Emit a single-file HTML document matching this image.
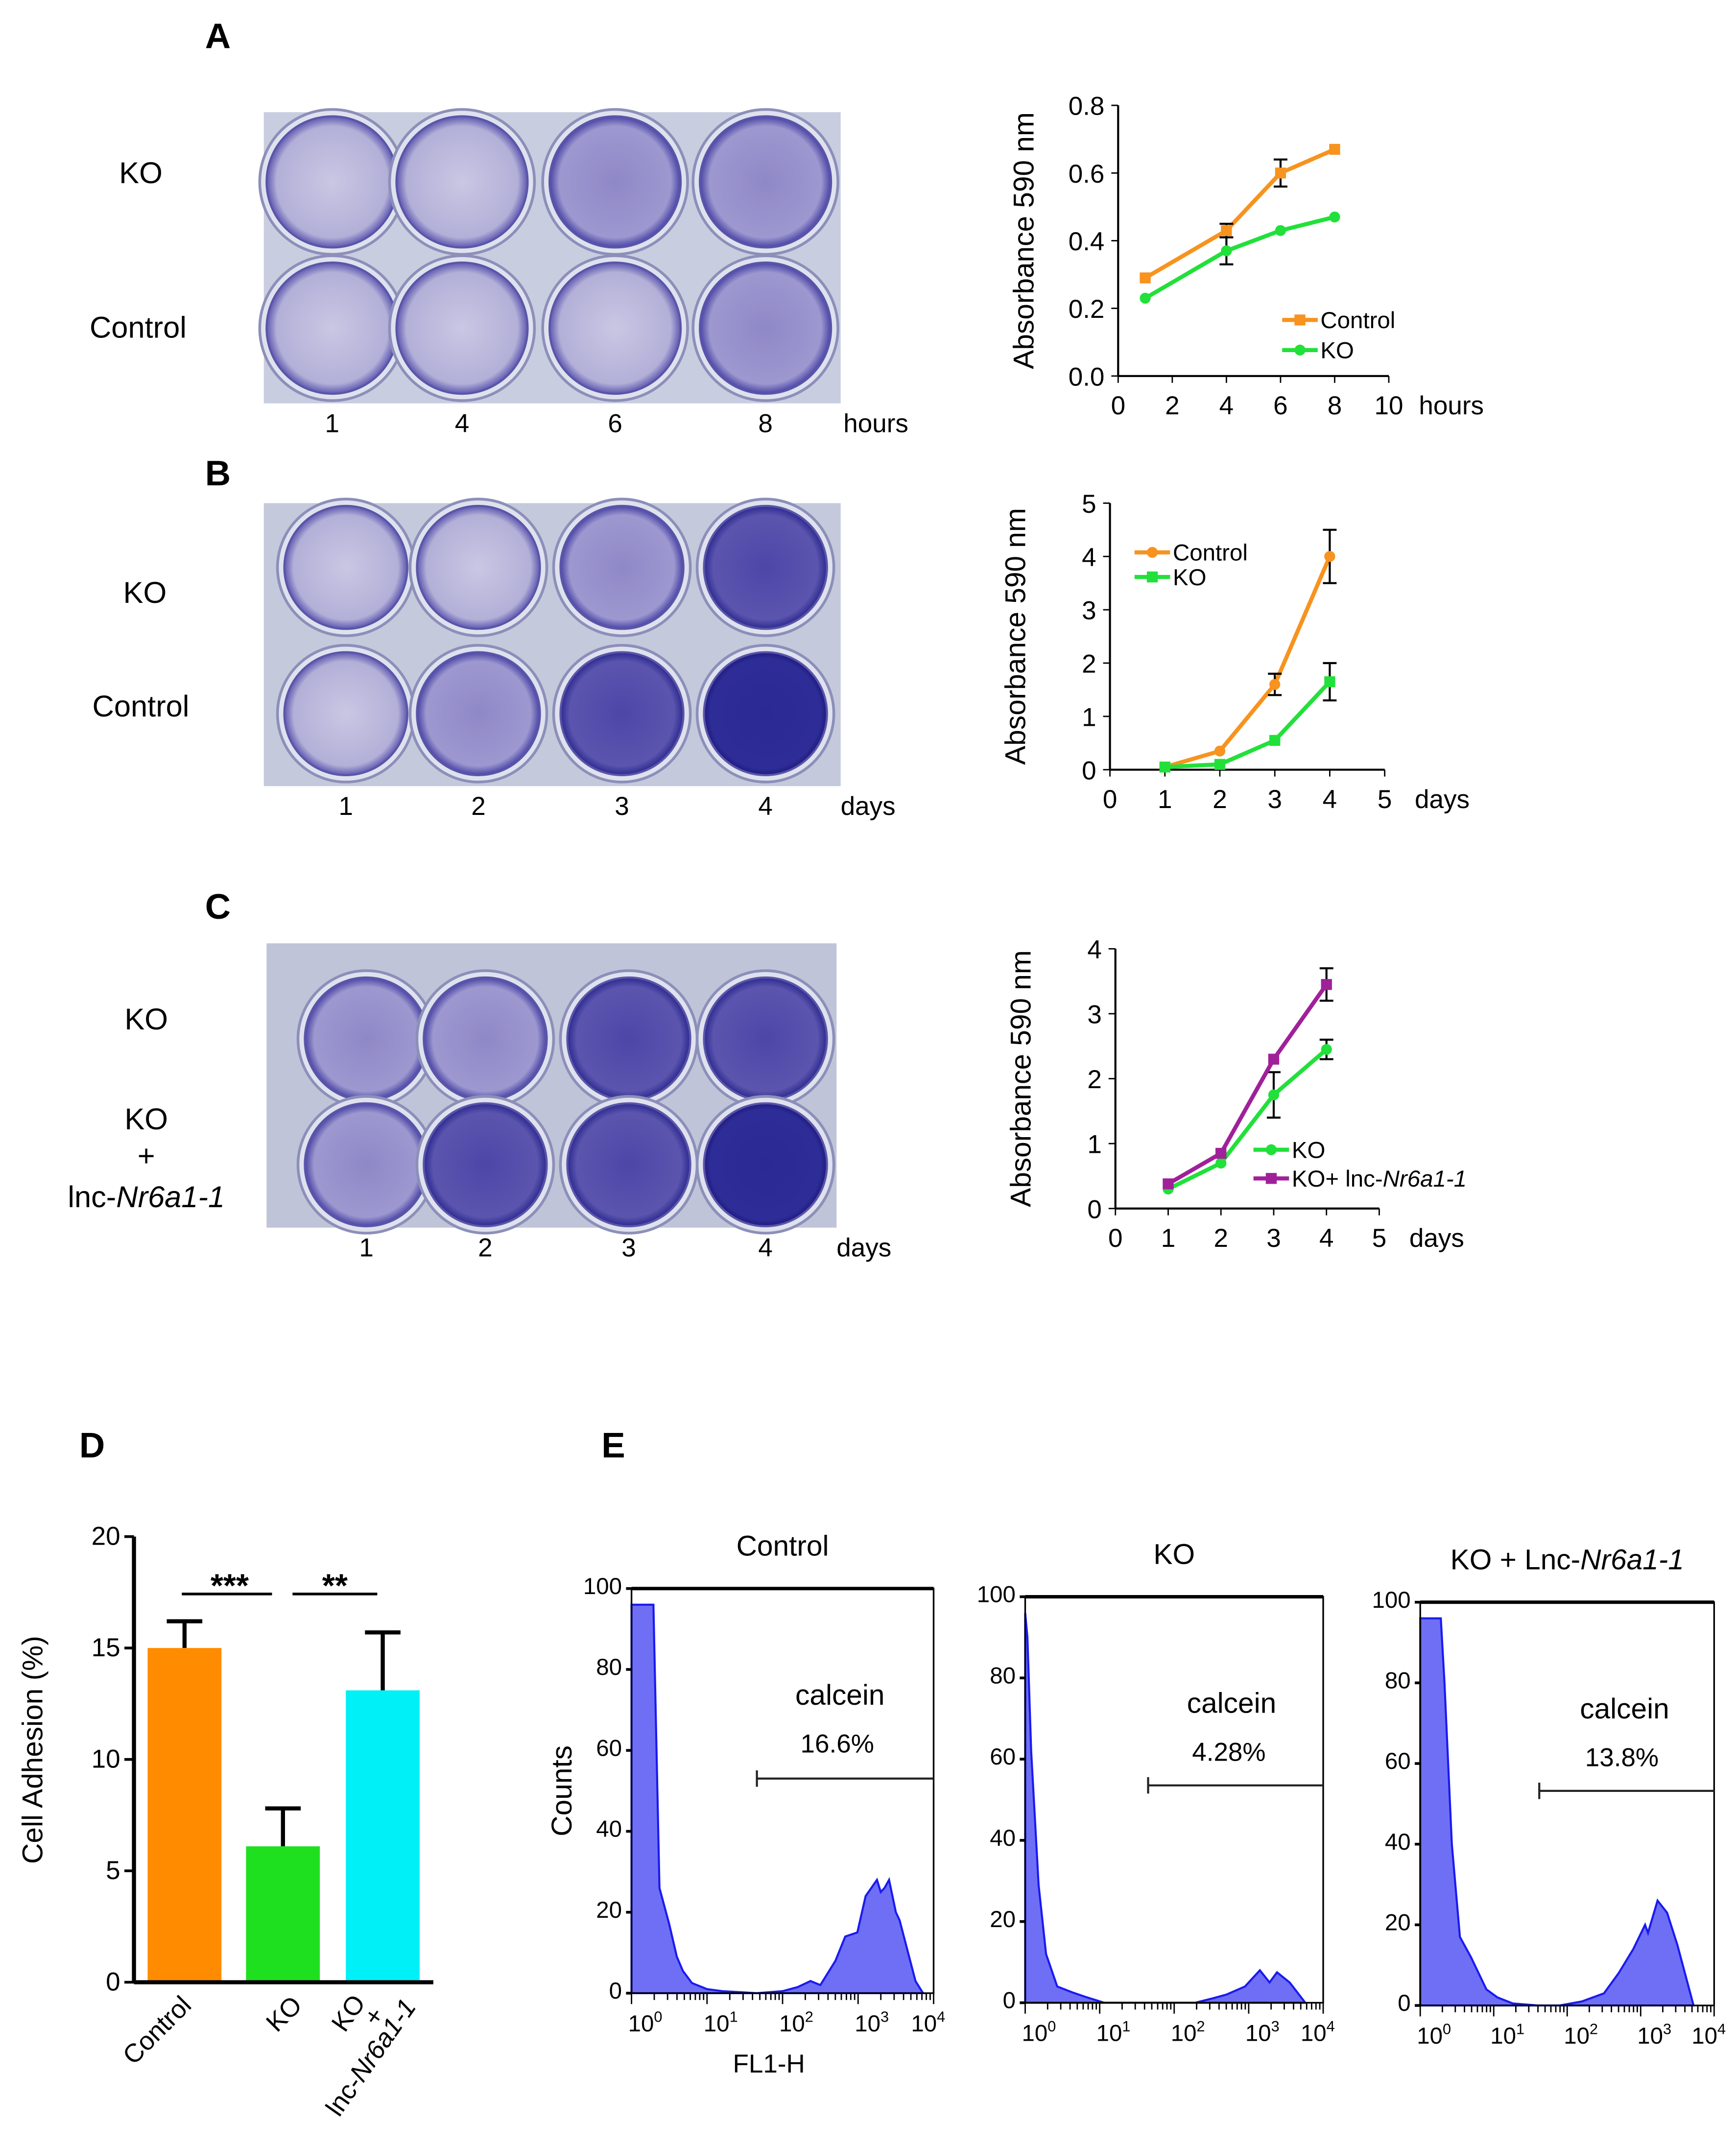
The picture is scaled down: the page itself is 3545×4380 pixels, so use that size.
<!DOCTYPE html>
<html><head><meta charset="utf-8"><style>
html,body{margin:0;padding:0;background:#fff}
svg{display:block;font-family:"Liberation Sans",Arial,sans-serif}
</style></head><body>
<svg id="fig" width="3545" height="4380" viewBox="0 0 1270 1569" xmlns="http://www.w3.org/2000/svg">
<defs>
<radialGradient id="wl" cx="50%" cy="50%" r="50%"><stop offset="0" stop-color="#c9c7e3"/><stop offset="0.85" stop-color="#b3b0d8"/><stop offset="1" stop-color="#5e58b0"/></radialGradient>
<radialGradient id="wm" cx="50%" cy="50%" r="50%"><stop offset="0" stop-color="#8f88c8"/><stop offset="0.85" stop-color="#9d98cf"/><stop offset="1" stop-color="#4a44a6"/></radialGradient>
<radialGradient id="wd" cx="50%" cy="50%" r="50%"><stop offset="0" stop-color="#4e46a8"/><stop offset="0.85" stop-color="#5b55ae"/><stop offset="1" stop-color="#2d2a90"/></radialGradient>
<radialGradient id="wv" cx="50%" cy="50%" r="50%"><stop offset="0" stop-color="#2b2a94"/><stop offset="0.9" stop-color="#2e2c96"/><stop offset="1" stop-color="#1e1c80"/></radialGradient>
</defs>
<g id="root"></g>
</svg>
<script>
const NS="http://www.w3.org/2000/svg";
const root=document.getElementById('root');
function el(tag,attrs,parent,text){const e=document.createElementNS(NS,tag);for(const k in attrs)e.setAttribute(k,attrs[k]);if(text!==undefined)e.textContent=text;(parent||root).appendChild(e);return e;}

// ---------- data ----------
const aX=[1,4,6,8];
const aControl=[0.29,0.43,0.60,0.67];
const aControlErr=[0,0.02,0.04,0];
const aKO=[0.23,0.37,0.43,0.47];
const aKOErr=[0,0.04,0,0];
const bX=[1,2,3,4];
const bControl=[0.05,0.35,1.6,4.0];
const bControlErr=[0,0,0.2,0.5];
const bKO=[0.05,0.1,0.55,1.65];
const bKOErr=[0,0,0,0.35];
const cX=[1,2,3,4];
const cKO=[0.3,0.7,1.75,2.45];
const cKOErr=[0,0,0.35,0.15];
const cLnc=[0.38,0.85,2.3,3.45];
const cLncErr=[0,0,0,0.25];
const dCats=["Control","KO","KO+lnc"];
const dValues=[15.0,6.1,13.1];
const dErr=[1.2,1.7,2.6];
const dTicks=[0,5,10,15,20];
const eCtrlLog=[0,0.12,0.2,0.29,0.37,0.5,0.6,0.68,0.8,1.0,1.2,1.66,2.0,2.2,2.37,2.5,2.7,2.83,2.99,3.1,3.25,3.3,3.35,3.41,3.5,3.55,3.76,3.86];
const eCtrlCnt=[96,96,96,96,26,17,9,5.5,2.5,1,0.5,0,0.5,1.5,3,2,8,14,15,24,28,25,26,28,20,18,3,0];
const eKOLog=[0,0.03,0.08,0.18,0.28,0.43,0.64,0.8,1.06,2.28,2.5,2.7,2.95,3.15,3.28,3.38,3.55,3.76];
const eKOCnt=[96,90,62,29,12,4,2.5,1.5,0,0,1,2,4,8,5,7.5,5,0];
const eLncLog=[0,0.15,0.28,0.33,0.43,0.54,0.69,0.9,1.05,1.26,1.6,1.9,2.2,2.5,2.7,2.9,3.06,3.1,3.23,3.36,3.5,3.72];
const eLncCnt=[96,96,96,80,40,17,12,4,2,0.5,0,0,1,3,8,14,20,18,26,23,15,0];

// ---------- panel letters ----------
[["A",150,35],["B",150,355],["C",150,672],["D",58,1066],["E",440,1066]].forEach(([t,x,y])=>{
 const e=el('text',{x,y,'font-size':26,'font-weight':'bold'},root,t);
 
 
});

// ---------- plates ----------
function plate(name,x,y,w,h,bg,cx,cy,r,fills,labels,unit,rowLabels){
 const g=el('g',{});
 
 
 el('rect',{x,y,width:w,height:h,fill:bg},g);
 cy.forEach((yy,ri)=>cx.forEach((xx,ci)=>{
  el('circle',{cx:xx,cy:yy,r:r+5,fill:'#dfe2ee',stroke:'#8c8fb8','stroke-width':2},g);
  const c=el('circle',{cx:xx,cy:yy,r:r,fill:'url(#'+fills[ri][ci]+')',stroke:'#5a55a8','stroke-width':1.5},g);
  
  
 }));
 labels.forEach((l,i)=>{const t=el('text',{x:cx[i],y:y+h+21,'font-size':19,'text-anchor':'middle'},g,l);});
 el('text',{x:x+w+(unit=="hours"?2:0),y:y+h+21,'font-size':19},g,unit);
 rowLabels.forEach(([t,xx,yy,it])=>{const tx=el('text',{x:xx,y:yy,'font-size':22,'text-anchor':'middle'},g);
  tx.innerHTML=t;});
}
plate('plate-a',193,82,422,213,'#c9cde0',[243,338,450,560],[133,240],48,[['wl','wl','wm','wm'],['wl','wl','wl','wm']],["1","4","6","8"],"hours",[["KO",103,134],["Control",101,247]]);
plate('plate-b',193,368,422,207,'#c4c9dc',[253,350,455,560],[415,522],45,[['wl','wl','wm','wd'],['wl','wm','wd','wv']],["1","2","3","4"],"days",[["KO",106,441],["Control",103,524]]);
plate('plate-c',195,690,417,208,'#bfc4d8',[268,355,460,560],[760,852],45,[['wm','wm','wd','wd'],['wm','wd','wd','wv']],["1","2","3","4"],"days",[["KO",107,753],["KO",107,826],["+",107,853],["lnc-<tspan font-style='italic'>Nr6a1-1</tspan>",107,883]]);

// ---------- line charts ----------
function lineChart(name,x0,x1,xmax,y0,y1,ymax,yticks,ytickFmt,xs,series,unit){
 const g=el('g',{});
 
 
 const X=v=>x0+(x1-x0)*v/xmax, Y=v=>y0-(y0-y1)*v/ymax;
 el('line',{x1:x0,y1:y0,x2:x1,y2:y0,stroke:'#000','stroke-width':1.5},g);
 el('line',{x1:x0,y1:y0,x2:x0,y2:y1,stroke:'#000','stroke-width':1.5},g);
 yticks.forEach(v=>{el('line',{x1:x0-5,y1:Y(v),x2:x0,y2:Y(v),stroke:'#000'},g);
  el('text',{x:x0-10,y:Y(v)+7,'font-size':19,'text-anchor':'end'},g,ytickFmt(v));});
 const xt=[];for(let v=0;v<=xmax;v+=(xmax==10?2:1))xt.push(v);
 xt.forEach(v=>{el('line',{x1:X(v),y1:y0,x2:X(v),y2:y0+5,stroke:'#000'},g);
  el('text',{x:X(v),y:y0+28,'font-size':19,'text-anchor':'middle'},g,String(v));});
 el('text',{x:X(xmax)+22,y:y0+28,'font-size':19},g,unit);
 const yt=el('text',{x:0,y:0,'font-size':21,'text-anchor':'middle',transform:`translate(${x0-62},${(y0+y1)/2}) rotate(-90)`},g,"Absorbance 590 nm");
 
 
 series.forEach(s=>{
  const sg=el('g',{},g);
  
  
  el('polyline',{points:xs.map((v,i)=>X(v)+','+Y(s.v[i])).join(' '),fill:'none',stroke:s.c,'stroke-width':3},sg);
  xs.forEach((v,i)=>{
   if(s.e[i]>0){const xx=X(v);el('path',{d:`M${xx},${Y(s.v[i]-s.e[i])}V${Y(s.v[i]+s.e[i])}M${xx-5},${Y(s.v[i]-s.e[i])}h10M${xx-5},${Y(s.v[i]+s.e[i])}h10`,stroke:'#000','stroke-width':1.5,fill:'none'},sg);}
   if(s.m=='sq')el('rect',{x:X(v)-4,y:Y(s.v[i])-4,width:8,height:8,fill:s.c},sg);
   else el('circle',{cx:X(v),cy:Y(s.v[i]),r:4,fill:s.c},sg);
  });
  const lx=s.lx,ly=s.ly;
  el('line',{x1:lx,y1:ly,x2:lx+26,y2:ly,stroke:s.c,'stroke-width':3},sg);
  if(s.m=='sq')el('rect',{x:lx+9,y:ly-4,width:8,height:8,fill:s.c},sg);else el('circle',{cx:lx+13,cy:ly,r:4,fill:s.c},sg);
  const lt=el('text',{x:lx+28,y:ly+6,'font-size':17},sg);lt.innerHTML=s.label;
 });
}
const OR='#f7931e',GR='#22e03a',PU='#a0209a';
lineChart('chart-a',818,1016,10,275,77,0.8,[0,0.2,0.4,0.6,0.8],v=>v.toFixed(1),aX,[
 {name:'series-control',v:aControl,e:aControlErr,c:OR,m:'sq',lx:938,ly:234,label:'Control'},
 {name:'series-ko',v:aKO,e:aKOErr,c:GR,m:'ci',lx:938,ly:256,label:'KO'}],"hours");
lineChart('chart-b',812,1013,5,563,368,5,[0,1,2,3,4,5],v=>String(v),bX,[
 {name:'series-control',v:bControl,e:bControlErr,c:OR,m:'ci',lx:830,ly:404,label:'Control'},
 {name:'series-ko',v:bKO,e:bKOErr,c:GR,m:'sq',lx:830,ly:422,label:'KO'}],"days");
lineChart('chart-c',816,1009,5,884,694,4,[0,1,2,3,4],v=>String(v),cX,[
 {name:'series-ko',v:cKO,e:cKOErr,c:GR,m:'ci',lx:917,ly:841,label:'KO'},
 {name:'series-ko-lnc',v:cLnc,e:cLncErr,c:PU,m:'sq',lx:917,ly:862,label:"KO+ lnc-<tspan font-style='italic'>Nr6a1-1</tspan>"}],"days");

// ---------- bar chart D ----------
(function(){
 const g=el('g',{});
 
 
 const x0=98,y0=1450,yTop=1124,ymax=20;const Y=v=>y0-(y0-yTop)*v/ymax;
 const cols=['#ff8c00','#1fe01f','#00f0f8'];const bx=[108,180,253],bw=54;
 dValues.forEach((v,i)=>{
  const cx=bx[i]+bw/2;
  el('path',{d:`M${cx},${Y(v)}V${Y(v+dErr[i])}M${cx-13},${Y(v+dErr[i])}h26`,stroke:'#000','stroke-width':3,fill:'none'},g);
  const r=el('rect',{x:bx[i],y:Y(v),width:bw,height:y0-Y(v),fill:cols[i]},g);
  
  
 });
 el('line',{x1:x0,y1:y0,x2:317,y2:y0,stroke:'#000','stroke-width':3},g);
 el('line',{x1:x0,y1:y0,x2:x0,y2:yTop,stroke:'#000','stroke-width':3},g);
 dTicks.forEach(v=>{el('line',{x1:x0-7,y1:Y(v),x2:x0,y2:Y(v),stroke:'#000','stroke-width':2},g);
  el('text',{x:x0-10,y:Y(v)+6,'font-size':19,'text-anchor':'end'},g,String(v));});
 el('text',{x:0,y:0,'font-size':21,'text-anchor':'middle',transform:'translate(31,1280) rotate(-90)'},g,'Cell Adhesion (%)');
 el('line',{x1:133,y1:1166,x2:199,y2:1166,stroke:'#000','stroke-width':2},g);
 el('line',{x1:214,y1:1166,x2:276,y2:1166,stroke:'#000','stroke-width':2},g);
 el('text',{x:168,y:1168,'font-size':24,'font-weight':'bold','text-anchor':'middle'},g,'***');
 el('text',{x:245,y:1168,'font-size':24,'font-weight':'bold','text-anchor':'middle'},g,'**');
 el('text',{x:0,y:0,'font-size':19,'text-anchor':'end',transform:'translate(141,1468) rotate(-45)'},g,'Control');
 el('text',{x:0,y:0,'font-size':19,'text-anchor':'end',transform:'translate(222,1468) rotate(-45)'},g,'KO');
 const t=el('text',{x:0,y:0,'font-size':19,'text-anchor':'end',transform:'translate(305,1468) rotate(-55)'},g);t.innerHTML="lnc-<tspan font-style='italic'>Nr6a1-1</tspan>";
 el('text',{x:0,y:0,'font-size':19,'text-anchor':'end',transform:'translate(268,1465) rotate(-55)'},g,'KO');
 el('text',{x:0,y:0,'font-size':19,'text-anchor':'end',transform:'translate(282,1474) rotate(-55)'},g,'+');
})();

// ---------- histograms E ----------
function hist(name,L,R,T,B,logs,cnts,title,pct,gateY,gateLog,showAxisTitles){
 const g=el('g',{});
 
 
 const X=v=>L+(R-L)*v/4, Y=v=>B-(B-T)*v/100;
 let d=`M${X(logs[0])},${B}`;logs.forEach((v,i)=>d+=`L${X(v)},${Y(cnts[i])}`);d+=`L${X(logs[logs.length-1])},${B}Z`;
 const p=el('path',{d,fill:'#6f6ff5',stroke:'#1a1af0','stroke-width':1.5},g);
 
 
 el('rect',{x:L,y:T,width:R-L,height:B-T,fill:'none',stroke:'#000','stroke-width':1.2},g);
 el('line',{x1:L,y1:T,x2:R,y2:T,stroke:'#000','stroke-width':2.5},g);
 for(let v=0;v<=100;v+=20){el('line',{x1:L-4,y1:Y(v),x2:L,y2:Y(v),stroke:'#000','stroke-width':2},g);
  el('text',{x:L-7,y:Y(v)+4,'font-size':17,'text-anchor':'end'},g,String(v));}
 for(let k=0;k<4;k++)for(let m=1;m<10;m++){const xx=X(k+Math.log10(m));el('line',{x1:xx,y1:B,x2:xx,y2:B+(m==1?8:5),stroke:'#000'},g);}
 el('line',{x1:X(4),y1:B,x2:X(4),y2:B+8,stroke:'#000'},g);
 for(let k=0;k<=4;k++){const t=el('text',{x:X(k)+(k==4?-4:10),y:B+28,'font-size':17,'text-anchor':'middle'},g);t.innerHTML=`10<tspan dy="-7" font-size="11">${k}</tspan>`;}
 const tt=el('text',{x:(L+R)/2,y:T-24,'font-size':21,'text-anchor':'middle'},g);tt.innerHTML=title;
 el('text',{x:(L+R)/2+42,y:T+85,'font-size':21,'text-anchor':'middle'},g,'calcein');
 el('text',{x:(L+R)/2+40,y:T+120,'font-size':19,'text-anchor':'middle'},g,pct);
 el('path',{d:`M${X(gateLog)},${gateY-6}V${gateY+6}M${X(gateLog)},${gateY}H${R}`,stroke:'#222','stroke-width':1.5,fill:'none'},g);
 if(showAxisTitles){
  el('text',{x:0,y:0,'font-size':21,'text-anchor':'middle',transform:`translate(${L-44},${(T+B)/2}) rotate(-90)`},g,'Counts');
  el('text',{x:(L+R)/2-10,y:B+58,'font-size':19,'text-anchor':'middle'},g,'FL1-H');
 }
}
hist('histogram-control',462,683,1162,1458,eCtrlLog,eCtrlCnt,'Control','16.6%',1301,1.66,true);
hist('histogram-ko',750,968,1168,1465,eKOLog,eKOCnt,'KO','4.28%',1306,1.65,false);
hist('histogram-ko-lnc',1039,1254,1172,1467,eLncLog,eLncCnt,"KO + Lnc-<tspan font-style='italic'>Nr6a1-1</tspan>",'13.8%',1310,1.62,false);
</script>
</body></html>
